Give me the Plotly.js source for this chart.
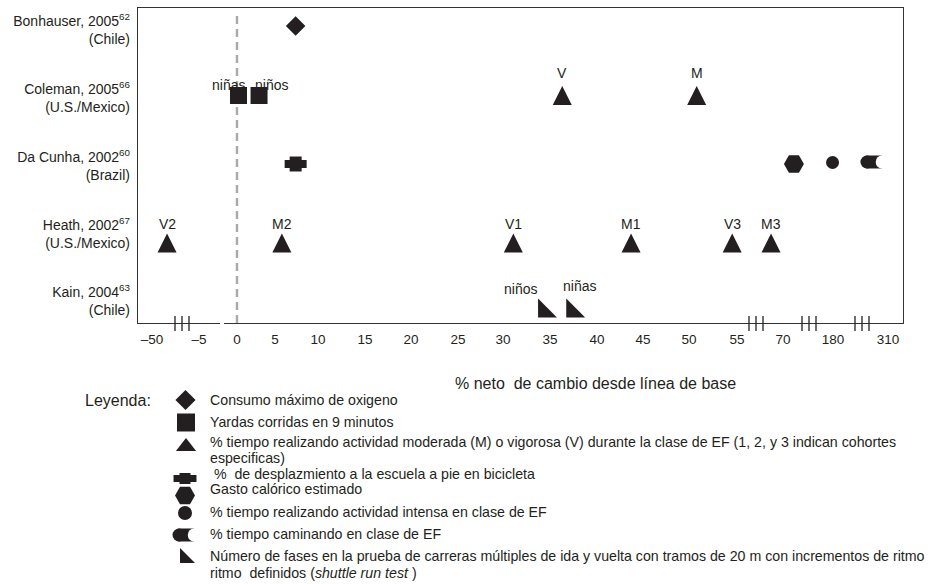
<!DOCTYPE html>
<html><head><meta charset="utf-8">
<script src="https://cdn.plot.ly/plotly-3.0.1.min.js"></script>
<style>html,body{margin:0;padding:0;background:#fff}#chart{width:931px;height:584px}</style>
</head><body><div id="chart"></div>
<script>
// ---------------- DATA ----------------
const studies = ['Bonhauser', 'Coleman', 'Da Cunha', 'Heath', 'Kain'];
const studyLabels = [
  'Bonhauser, 2005<sup>62</sup><br>(Chile)',
  'Coleman, 2005<sup>66</sup><br>(U.S./Mexico)',
  'Da Cunha, 2002<sup>60</sup><br>(Brazil)',
  'Heath, 2002<sup>67</sup><br>(U.S./Mexico)',
  'Kain, 2004<sup>63</sup><br>(Chile)'
];
const tickValues = [-50, -5, 0, 5, 10, 15, 20, 25, 30, 35, 40, 45, 50, 55, 70, 180, 310];
const tickLabels = ['\u201350', '\u20135', '0', '5', '10', '15', '20', '25', '30', '35', '40', '45', '50', '55', '70', '180', '310'];

// Consumo máximo de oxígeno
const vo2Study = ['Bonhauser'];
const vo2Values = [7.4];
// Yardas corridas en 9 minutos
const yardStudy = ['Coleman', 'Coleman'];
const yardValues = [0.2, 2.9];
const yardLabels = ['niñas', 'niños'];
// % tiempo actividad moderada / vigorosa
const mvpaStudy = ['Coleman', 'Coleman', 'Heath', 'Heath', 'Heath', 'Heath', 'Heath', 'Heath'];
const mvpaValues = [36.3, 50.8, -35.6, 5.8, 31.1, 43.7, 54.5, 66.1];
const mvpaLabels = ['V', 'M', 'V2', 'M2', 'V1', 'M1', 'V3', 'M3'];
// % desplazamiento a la escuela
const commuteStudy = ['Da Cunha'];
const commuteValues = [7.4];
// Gasto calórico estimado
const energyStudy = ['Da Cunha'];
const energyValues = [94];
// % tiempo actividad intensa
const vigorousStudy = ['Da Cunha'];
const vigorousValues = [179];
// % tiempo caminando
const walkingStudy = ['Da Cunha'];
const walkingValues = [272];
// shuttle run test
const shuttleStudy = ['Kain', 'Kain'];
const shuttleValues = [34.4, 37.4];
const shuttleLabels = ['niños', 'niñas'];

const legendTitle = 'Leyenda:';
const legendLabels = [
  'Consumo máximo de oxigeno',
  'Yardas corridas en 9 minutos',
  '% tiempo realizando actividad moderada (M) o vigorosa (V) durante la clase de EF (1, 2, y 3 indican cohortes',
  'especificas)',
  '\u00a0%\u00a0 de desplazmiento a la escuela a pie en bicicleta',
  'Gasto calórico estimado',
  '% tiempo realizando actividad intensa en clase de EF',
  '% tiempo caminando en clase de EF',
  'Número de fases en la prueba de carreras múltiples de ida y vuelta con tramos de 20 m con incrementos de ritmo',
  'ritmo\u00a0 definidos (<i>shuttle run test</i> )'
];
const xTitle = '% neto\u00a0 de cambio desde línea de base';

// ---------------- LAYOUT CONSTANTS ----------------
const W = 931, H = 584;
const PL = 138, PR = 903, PT = 8, PB = 323;
const TICK_PX = [152, 199, 237, 275, 318, 365, 411, 458, 503, 550, 597, 643, 689, 737, 783, 833, 888];
const ROW0 = 30.5, ROWPX = 67.75;
const MARKER_DY = [-4.5, -2.75, -2, 9.25, 6.5];  // marker centre vs label centre, px
const INK = '#231f20';
const fontBase = 'Liberation Sans, Arial, sans-serif';

function xPos(v) {
  const tv = tickValues, tp = TICK_PX;
  let i = 0;
  if (v >= tv[tv.length - 1]) i = tv.length - 2;
  else if (v > tv[0]) { while (v > tv[i + 1]) i++; }
  return tp[i] + (v - tv[i]) * (tp[i + 1] - tp[i]) / (tv[i + 1] - tv[i]);
}
function rowY(study, px) { const i = studies.indexOf(study); return i + (MARKER_DY[i] + (px || 0)) / ROWPX; }

const traces = [];
function mk(xs, ys, symbol, size, opts) {
  opts = opts || {};
  const t = {
    type: 'scatter', mode: 'markers', x: xs, y: ys, hoverinfo: 'skip', showlegend: false,
    cliponaxis: false,
    marker: { symbol: symbol, size: size, color: opts.color || INK, angle: opts.angle || 0,
      line: { width: opts.lw || 0, color: opts.color || INK } }
  };
  if (opts.legend) { t.xaxis = 'x2'; t.yaxis = 'y2'; }
  traces.push(t);
}
// crescent built from a round-ended bar with a white bite on the right
function crescent(xs, ys, legend) {
  mk(xs.map(x => x + 2), ys, 'line-ew', 11.4, { lw: 13, legend: legend });
  mk(xs.map(x => x - 5), ys, 'circle', 13, { legend: legend });
  mk(xs.map(x => x + 10.5), ys, 'circle', 13.5, { color: '#ffffff', legend: legend });
}

// ---- main plot marks ----
mk(vo2Values.map(xPos), vo2Study.map(s => rowY(s)), 'diamond', 15);

mk(yardValues.map(xPos), yardStudy.map(s => rowY(s)), 'square', 17);

mk(mvpaValues.map(xPos), mvpaStudy.map(s => rowY(s, -9.5)), 'arrow-up', 19);

const cx = commuteValues.map(xPos), cy = commuteStudy.map(s => rowY(s));
mk(cx, cy, 'line-ns', 10.7, { lw: 12 });
mk(cx, cy, 'line-ew', 15.7, { lw: 8 });

mk(energyValues.map(xPos), energyStudy.map(s => rowY(s)), 'hexagon2', 20);
mk(vigorousValues.map(xPos), vigorousStudy.map(s => rowY(s, -1.5)), 'circle', 13);

crescent(walkingValues.map(xPos), walkingStudy.map(s => rowY(s, -2)), false);

mk(shuttleValues.map(xPos), shuttleStudy.map(s => rowY(s, 3.15)), 'triangle-sw', 21);

// ---- legend marks (pixel overlay axes) ----
const LX = 185;
const LEG_Y = [400, 422, 442, 458, 473.5, 489, 512, 534, 556, 573];
const LEG_TX = 208;
mk([LX + 0.5], [400], 'diamond', 15.5, { legend: true });
mk([LX + 1], [422.5], 'square', 18, { legend: true });
mk([LX + 1], [446.7], 'triangle-up', 17.5, { legend: true });
mk([LX], [478.5], 'line-ns', 7.9, { lw: 11, legend: true });
mk([LX], [478.5], 'line-ew', 16.4, { lw: 7, legend: true });
mk([LX], [495.5], 'hexagon2', 20, { legend: true });
mk([LX], [513], 'circle', 14, { legend: true });
crescent([LX - 1], [535], true);
mk([LX], [558], 'triangle-sw', 16.7, { legend: true });

// ---- annotations ----
const ann = [];
function lab(text, x, y, xs, ys) {
  ann.push({ text: text, x: x, y: y, xref: 'x', yref: 'y', xshift: xs, yshift: ys, showarrow: false,
    xanchor: 'center', yanchor: 'middle', font: { family: fontBase, size: 14, color: INK } });
}
const yardShift = [-10, 12];
yardValues.forEach((v, i) => lab(yardLabels[i], xPos(v), rowY(yardStudy[i]), yardShift[i], 10.5));
mvpaValues.forEach((v, i) => lab(mvpaLabels[i], xPos(v), rowY(mvpaStudy[i]), 0, mvpaStudy[i] === 'Coleman' ? 22.5 : 19));
const shutX = [-24, 7], shutY = [19, 22.3];
shuttleValues.forEach((v, i) => lab(shuttleLabels[i], xPos(v), rowY(shuttleStudy[i]), shutX[i], shutY[i]));

ann.push({ text: legendTitle, x: 83, y: 400, xref: 'x2', yref: 'y2', xanchor: 'left', yanchor: 'middle',
  showarrow: false, font: { family: fontBase, size: 16, color: INK } });
legendLabels.forEach((t, i) => ann.push({ text: t, x: LEG_TX, y: LEG_Y[i], xref: 'x2', yref: 'y2',
  xanchor: 'left', yanchor: 'middle', showarrow: false, font: { family: fontBase, size: 14.2, color: INK } }));
ann.push({ text: xTitle, x: 595.5, y: 383, xref: 'x2', yref: 'y2', xanchor: 'center', yanchor: 'middle',
  showarrow: false, font: { family: fontBase, size: 16, color: INK } });

// ---- shapes ----
const shapes = [];
shapes.push({ type: 'line', xref: 'x', yref: 'y domain', x0: xPos(0), x1: xPos(0), y0: 0, y1: 0.987,
  line: { color: '#a7a9ac', width: 2.4, dash: '8px,5px' }, layer: 'below' });
shapes.push({ type: 'line', xref: 'x2', yref: 'y2', x0: 220, x1: 224, y0: PB, y1: PB,
  line: { color: '#ffffff', width: 3 }, layer: 'above' });
[182, 756, 809, 862].forEach(c => [-7, 0, 7].forEach(d => shapes.push({
  type: 'line', xref: 'x2', yref: 'y2', x0: c + d, x1: c + d, y0: 316, y1: 331,
  line: { color: INK, width: 1.3 }, layer: 'above' })));

const layout = {
  width: W, height: H, margin: { l: 0, r: 0, t: 0, b: 0 },
  paper_bgcolor: '#ffffff', plot_bgcolor: 'rgba(0,0,0,0)',
  showlegend: false,
  font: { family: fontBase, color: INK },
  xaxis: {
    domain: [PL / W, PR / W], range: [PL, PR], tickmode: 'array',
    tickvals: tickValues.map((v, i) => TICK_PX[i]), ticktext: tickLabels,
    showgrid: false, zeroline: false, showline: true, mirror: true, linecolor: '#333333', linewidth: 1.2,
    ticks: '', ticklabelstandoff: 4, tickfont: { size: 13.5, color: INK, family: fontBase }, fixedrange: true
  },
  yaxis: {
    domain: [1 - PB / H, 1 - PT / H], range: [(PB - ROW0) / ROWPX, (PT - ROW0) / ROWPX], autorange: false,
    tickmode: 'array', tickvals: studies.map((s, i) => i), ticktext: studyLabels,
    showgrid: false, zeroline: false, showline: true, mirror: true, linecolor: '#333333', linewidth: 1.2,
    ticks: '', ticklabelstandoff: 4, tickfont: { size: 14, color: INK, family: fontBase }, fixedrange: true
  },
  xaxis2: { domain: [0, 1], range: [0, W], anchor: 'y2', visible: false, fixedrange: true },
  yaxis2: { domain: [0, 1], range: [H, 0], anchor: 'x2', visible: false, fixedrange: true },
  annotations: ann, shapes: shapes
};

Plotly.newPlot('chart', traces, layout, { staticPlot: true, displayModeBar: false });
</script></body></html>
